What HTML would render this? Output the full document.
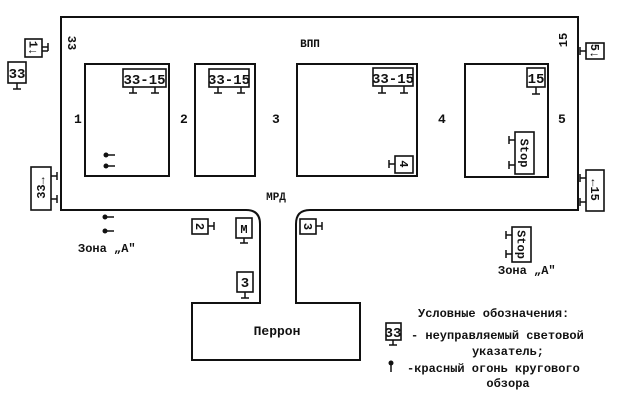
<!DOCTYPE html>
<html><head><meta charset="utf-8"><style>
html,body{margin:0;padding:0;background:#fff}
svg{display:block}
text{font-family:"Liberation Mono","DejaVu Sans Mono",monospace;fill:#111;font-weight:bold}
</style></head><body>
<svg width="629" height="408" viewBox="0 0 629 408" xmlns="http://www.w3.org/2000/svg">
<g fill="none" stroke="#111" stroke-width="2">
<path d="M61,17 H578 V210 H310 Q296,210 296,224 V303 H360 V360 H192 V303 H260 V224 Q260,210 246,210 H61 Z"/>
<rect x="85" y="64" width="84" height="112"/>
<rect x="195" y="64" width="60" height="112"/>
<rect x="297" y="64" width="120" height="112"/>
<rect x="465" y="64" width="83" height="113"/>
</g>
<g fill="#fff" stroke="#111" stroke-width="1.6">
<rect x="123" y="69" width="43" height="18"/>
<rect x="209" y="69" width="40" height="18"/>
<rect x="373" y="68" width="40" height="18"/>
<rect x="527" y="68" width="18" height="19"/>
<rect x="395" y="156" width="18" height="17"/>
<rect x="515" y="132" width="19" height="42"/>
<rect x="25" y="39" width="17" height="18"/>
<rect x="8" y="62" width="18" height="21"/>
<rect x="31" y="167" width="20" height="43"/>
<rect x="586" y="43" width="18" height="16"/>
<rect x="586" y="170" width="18" height="41"/>
<rect x="192" y="219" width="16" height="15"/>
<rect x="236" y="218" width="16" height="20"/>
<rect x="237" y="272" width="16" height="20"/>
<rect x="300" y="219" width="16" height="15"/>
<rect x="512" y="227" width="19" height="35"/>
<rect x="386" y="323" width="15" height="17"/>
</g>
<g stroke="#111" stroke-width="1.5" fill="none">
<path d="M133,87v6M129,93h8M155,87v6M151,93h8"/>
<path d="M218,87v6M214,93h8M241,87v6M237,93h8"/>
<path d="M382,86v7M378,93h8M404,86v7M400,93h8"/>
<path d="M536,87v7M532,94h8"/>
<path d="M17,83v6M13,89h8"/>
<path d="M244,238v5M240,243h8"/>
<path d="M245,292v6M241,298h8"/>
<path d="M393,340v5M389,345h8"/>
<path d="M395,164h-6M389,160v8"/>
<path d="M515,140h-6M509,136v8M515,165h-6M509,161v8"/>
<path d="M586,51h-6M580,47v8"/>
<path d="M586,178h-6M580,174v8M586,202h-6M580,198v8"/>
<path d="M512,235h-6M506,231v8M512,254h-6M506,250v8"/>
<path d="M42,47h6M48,43v8M42,51h6"/>
<path d="M51,176h6M57,172v8M51,199h6M57,195v8"/>
<path d="M208,226h6M214,222v8"/>
<path d="M316,226h6M322,222v8"/>
<path d="M106,155h9M106,166h9M106,217h8M106,231h8"/>
<path d="M391,363v9"/>
</g>
<g fill="#111">
<circle cx="106" cy="155" r="2.5"/><circle cx="106" cy="166" r="2.5"/>
<circle cx="105" cy="217" r="2.5"/><circle cx="105" cy="231" r="2.5"/>
<circle cx="391" cy="363" r="2.5"/>
</g>
<g font-size="13">
<text x="144.5" y="84" text-anchor="middle" font-size="14">33-15</text>
<text x="229" y="84" text-anchor="middle" font-size="14">33-15</text>
<text x="393" y="83" text-anchor="middle" font-size="14">33-15</text>
<text x="536" y="83" text-anchor="middle" font-size="14">15</text>
<text x="17" y="78" text-anchor="middle" font-size="14">33</text>
<text x="244" y="233" text-anchor="middle" font-size="12" font-family="Liberation Serif">М</text>
<text x="245" y="287" text-anchor="middle" font-size="14">3</text>
<text x="393" y="337" text-anchor="middle" font-size="14">33</text>
<text transform="translate(404,164) rotate(90)" text-anchor="middle" y="4" font-size="12">4</text>
<text transform="translate(524.5,153) rotate(90)" text-anchor="middle" y="4" font-size="12">Stop</text>
<text transform="translate(521.5,244.5) rotate(90)" text-anchor="middle" y="4" font-size="12">Stop</text>
<text transform="translate(33.5,48) rotate(90)" text-anchor="middle" y="4" font-size="12">1↓</text>
<text transform="translate(41,188) rotate(-90)" text-anchor="middle" y="4" font-size="12">33→</text>
<text transform="translate(595,51) rotate(90)" text-anchor="middle" y="4" font-size="12">5↓</text>
<text transform="translate(595,190) rotate(90)" text-anchor="middle" y="4" font-size="12">←15</text>
<text transform="translate(200,226.5) rotate(90)" text-anchor="middle" y="4" font-size="12">2</text>
<text transform="translate(308,226.5) rotate(90)" text-anchor="middle" y="4" font-size="12">3</text>
<text transform="translate(72,43) rotate(90)" text-anchor="middle" y="4" font-size="12">33</text>
<text transform="translate(563,40) rotate(-90)" text-anchor="middle" y="4" font-size="12">15</text>
<text x="310" y="47" text-anchor="middle" font-size="11">ВПП</text>
<text x="74" y="123">1</text>
<text x="180" y="123">2</text>
<text x="272" y="123">3</text>
<text x="438" y="123">4</text>
<text x="558" y="123">5</text>
<text x="276" y="200" text-anchor="middle" font-size="11">МРД</text>
<text x="78" y="252" font-size="12">Зона „А"</text>
<text x="498" y="274" font-size="12">Зона „А"</text>
<text x="277" y="335" text-anchor="middle" font-size="13">Перрон</text>
<text x="418" y="317" font-size="12">Условные обозначения:</text>
<text x="411" y="339" font-size="12">- неуправляемый световой</text>
<text x="508" y="355" text-anchor="middle" font-size="12">указатель;</text>
<text x="407" y="372" font-size="12">-красный огонь кругового</text>
<text x="508" y="387" text-anchor="middle" font-size="12">обзора</text>
</g>
</svg>
</body></html>
